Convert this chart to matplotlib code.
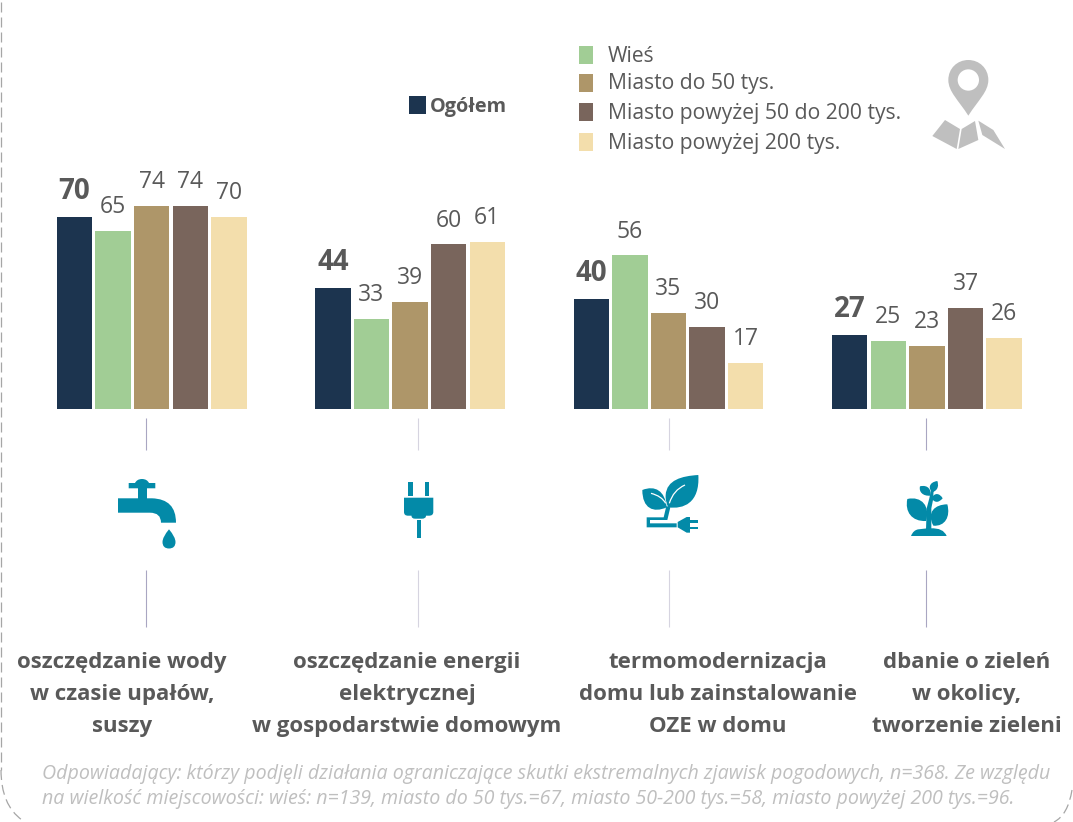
import matplotlib
matplotlib.use("Agg")
import matplotlib.pyplot as plt
from matplotlib.path import Path
from matplotlib.patches import PathPatch, Rectangle, Circle

categories = ["oszczędzanie wody\nw czasie upałów,\nsuszy",
              "oszczędzanie energii\nelektrycznej\nw gospodarstwie domowym",
              "termomodernizacja\ndomu lub zainstalowanie\nOZE w domu",
              "dbanie o zieleń\nw okolicy,\ntworzenie zieleni"]
series_names = ["Ogółem", "Wieś", "Miasto do 50 tys.",
                "Miasto powyżej 50 do 200 tys.", "Miasto powyżej 200 tys."]
ogolem = [70, 44, 40, 27]
wies = [65, 33, 56, 25]
miasto_50 = [74, 39, 35, 23]
miasto_50_200 = [74, 60, 30, 37]
miasto_200 = [70, 61, 17, 26]
series = [ogolem, wies, miasto_50, miasto_50_200, miasto_200]
colors = ["#1c344f", "#a1cd95", "#ae9669", "#79655c", "#f3deac"]
footnote = ["Odpowiadający: którzy podjęli działania ograniczające skutki ekstremalnych zjawisk pogodowych, n=368. Ze względu",
            "na wielkość miejscowości: wieś: n=139, miasto do 50 tys.=67, miasto 50-200 tys.=58, miasto powyżej 200 tys.=96."]

W, H = 1073, 822
FONT = "Open Sans"
TXT = "#595959"
TEAL = "#038aa8"
GREY = "#bfbfbf"
plt.rcParams["font.family"] = [FONT, "DejaVu Sans"]

fig = plt.figure(figsize=(W / 100, H / 100), dpi=100, facecolor="white")

# bar axes fills the figure: x in group units, y in survey percent
ax = fig.add_axes([0, 0, 1, 1])
px_per_group = 258.4
px_per_unit = 2.75
base_px = 409.5
first_px = 151.7
ax.set_xlim(-first_px / px_per_group, (W - first_px) / px_per_group)
ax.set_ylim(-(H - base_px) / px_per_unit, base_px / px_per_unit)
ax.axis("off")
bw = 35.5 / px_per_group
step = 38.6 / px_per_group
for k, (vals, c) in enumerate(zip(series, colors)):
    xs = [i + (k - 2) * step for i in range(len(vals))]
    bars = ax.bar(xs, vals, width=bw, color=c, linewidth=0)
    if k == 0:
        ax.bar_label(bars, padding=8, fontsize=20, fontweight="bold", color=TXT)
    else:
        ax.bar_label(bars, padding=8.5, fontsize=16.5, color=TXT)

# overlay in pixel coordinates for decoration
ov = fig.add_axes([0, 0, 1, 1], facecolor="none")
ov.set_xlim(0, W)
ov.set_ylim(H, 0)
ov.axis("off")

M, L, C, Z = Path.MOVETO, Path.LINETO, Path.CURVE3, Path.CLOSEPOLY
C4 = Path.CURVE4


def shape(cmds, color=TEAL, ox=0, oy=0, s=1.0, **kw):
    verts, codes = [], []
    for code, p in cmds:
        verts.append((ox + p[0] * s, oy + p[1] * s))
        codes.append(code)
    ov.add_patch(PathPatch(Path(verts, codes), facecolor=color, edgecolor="none", linewidth=0, **kw))


def poly(pts, **kw):
    cmds = [(M, pts[0])] + [(L, p) for p in pts[1:]] + [(Z, pts[0])]
    shape(cmds, **kw)


def blob(start, *triples, **kw):
    cmds = [(M, start)]
    for t in triples:
        cmds += [(C4, p) for p in t]
    cmds.append((Z, start))
    shape(cmds, **kw)


# separators
for x, col in zip([146, 417.5, 668.5, 926], ["#a9a6c2", "#d6d4e0", "#d6d4e0", "#a9a6c2"]):
    ov.plot([x, x], [418, 450], color=col, lw=0.8, solid_capstyle="butt")
    ov.plot([x, x], [570, 627], color=col, lw=0.8, solid_capstyle="butt")

# tap
shape([(M, (118, 498.3)), (L, (152, 498.3)), (C, (176, 499)), (C, (176, 522.7)), (L, (161, 522.7)),
       (C, (161, 512.7)), (C, (150, 512.7)), (L, (118, 512.7)), (Z, (118, 498.3))])
poly([(138, 488), (146.7, 488), (146.7, 499), (138, 499)])
shape([(M, (128.7, 483)), (L, (135, 483)), (C, (137, 479)), (C, (142, 479)), (C, (147, 479)), (C, (149, 483)),
       (L, (155.3, 483)), (L, (155.3, 488.3)), (L, (128.7, 488.3)), (Z, (128.7, 483))])
shape([(M, (169, 529.3)), (C, (162.5, 537)), (C, (162.5, 542)), (C, (162.5, 548.5)), (C, (169, 548.5)),
       (C, (175.5, 548.5)), (C, (175.5, 542)), (C, (175.5, 537)), (C, (169, 529.3)), (Z, (169, 529.3))])

# plug
for x0 in (408.3, 424.7):
    ov.add_patch(Rectangle((x0, 482), 4.4, 14, facecolor=TEAL, edgecolor="none"))
shape([(M, (404, 497.7)), (L, (433.3, 497.7)), (L, (433.3, 512)), (C, (433.3, 515.7)), (C, (429, 515.7)),
       (L, (426, 515.7)), (C, (426, 518.7)), (C, (422, 518.7)), (L, (415, 518.7)), (C, (411.5, 518.7)), (C, (411.5, 515.7)),
       (L, (408, 515.7)), (C, (404, 515.7)), (C, (404, 512)), (Z, (404, 497.7))])
ov.add_patch(Rectangle((417, 520), 4, 17.7, facecolor=TEAL, edgecolor="none"))

# leaf and plug
ox, oy, s = 635, 470, 1 / 3
blob((190, 15), [(140, 18), (95, 30), (92, 75)], [(91, 90), (95, 102), (100, 112)], [(145, 118), (195, 100), (190, 15)], ox=ox, oy=oy, s=s)
blob((22, 60), [(60, 45), (90, 62), (95, 112)], [(55, 130), (22, 115), (22, 60)], ox=ox, oy=oy, s=s)
ov.add_patch(PathPatch(Path([(ox + 150 * s, oy + 45 * s), (ox + 115 * s, oy + 60 * s), (ox + 103 * s, oy + 100 * s)], [M, C, C]),
                       facecolor="none", edgecolor="white", lw=0.9))
ov.add_patch(PathPatch(Path([(ox + 48 * s, oy + 70 * s), (ox + 80 * s, oy + 78 * s), (ox + 92 * s, oy + 100 * s)], [M, C, C]),
                       facecolor="none", edgecolor="white", lw=0.9))
poly([(94, 108), (106, 112), (97, 150), (45, 150), (45, 160), (125, 160), (125, 172), (35, 172), (35, 142), (86, 142)], ox=ox, oy=oy, s=s)
poly([(128, 156), (155, 141), (165, 141), (165, 188), (155, 188), (128, 172)], ox=ox, oy=oy, s=s)
poly([(165, 150), (190, 150), (190, 158), (165, 158)], ox=ox, oy=oy, s=s)
poly([(165, 170), (190, 170), (190, 178), (165, 178)], ox=ox, oy=oy, s=s)

# seedling
ox, oy, s = 900, 475, 1 / 3
shape([(M, (33, 183)), (C, (40, 165)), (C, (55, 163)), (L, (82, 160)), (L, (92, 160)), (C, (130, 158)), (C, (140, 183)), (Z, (33, 183))], ox=ox, oy=oy, s=s)
poly([(78, 165), (80, 100), (88, 70), (93, 45), (101, 45), (99, 75), (94, 100), (94, 165)], ox=ox, oy=oy, s=s)
blob((22, 72), [(65, 62), (92, 95), (78, 138)], [(35, 140), (14, 110), (22, 72)], ox=ox, oy=oy, s=s)
blob((142, 88), [(105, 88), (78, 112), (100, 152)], [(135, 155), (152, 125), (142, 88)], ox=ox, oy=oy, s=s)
blob((112, 18), [(85, 22), (85, 42), (97, 52)], [(116, 45), (116, 30), (112, 18)], ox=ox, oy=oy, s=s)
blob((60, 34), [(84, 28), (95, 45), (91, 62)], [(68, 64), (56, 50), (60, 34)], ox=ox, oy=oy, s=s)
blob((94, 70), [(105, 50), (120, 56), (128, 70)], [(115, 84), (105, 84), (94, 70)], ox=ox, oy=oy, s=s)

# map pin
ox, oy, s = 925, 55, 1 / 3
blob((130, 182), [(100, 135), (70, 110), (70, 75)], [(70, 40), (97, 15), (130, 15)],
     [(163, 15), (190, 40), (190, 75)], [(190, 110), (160, 135), (130, 182)], color=GREY, ox=ox, oy=oy, s=s)
ov.add_patch(Circle((925 + 130 / 3, 55 + 75 / 3), 32 / 3, facecolor="white", edgecolor="none"))
poly([(60, 195), (105, 222), (95, 282), (22, 243)], color=GREY, ox=ox, oy=oy, s=s)
poly([(150, 198), (160, 255), (100, 282), (110, 222)], color=GREY, ox=ox, oy=oy, s=s)
poly([(160, 197), (205, 225), (240, 282), (172, 240)], color=GREY, ox=ox, oy=oy, s=s)

# frame
dash = dict(color="#a6a6a6", lw=0.9, linestyle=(0, (8, 4)))
ov.plot([1, 1], [2, 770], **dash)
p = Path([(1, 770), (1, 805), (22, 820)], [M, C, C])
ov.add_patch(PathPatch(p, facecolor="none", edgecolor="#a6a6a6", lw=0.9, linestyle=(0, (8, 4))))
p = Path([(1072, 790), (1068, 815), (1054, 822)], [M, C, C])
ov.add_patch(PathPatch(p, facecolor="none", edgecolor="#a6a6a6", lw=0.9, linestyle=(0, (8, 4))))

# legends
ov.add_patch(Rectangle((409, 96), 16.5, 18, facecolor=colors[0], edgecolor="none"))
ov.text(430, 107, series_names[0], fontsize=14.3, fontweight="bold", color=TXT, va="center", ha="left")
for name, c, y in zip(series_names[1:], colors[1:], [46, 74, 103, 133]):
    ov.add_patch(Rectangle((579, y), 13.5, 18, facecolor=c, edgecolor="none"))
    ov.text(608, y + 10, name, fontsize=15.25, color=TXT, va="center", ha="left")

# category labels, one text per line so the line pitch is exact
for lab, cx in zip(categories, [122, 407, 718, 967]):
    for line, y in zip(lab.split("\n"), [668, 700, 732]):
        ov.text(cx, y, line, fontsize=16.05, fontweight="bold", color=TXT, ha="center", va="baseline")

for line, y in zip(footnote, [779, 804]):
    ov.text(42, y, line, fontsize=14.12, style="italic", color=GREY, ha="left", va="baseline")

fig.savefig("out.png", dpi=100, facecolor="white")
